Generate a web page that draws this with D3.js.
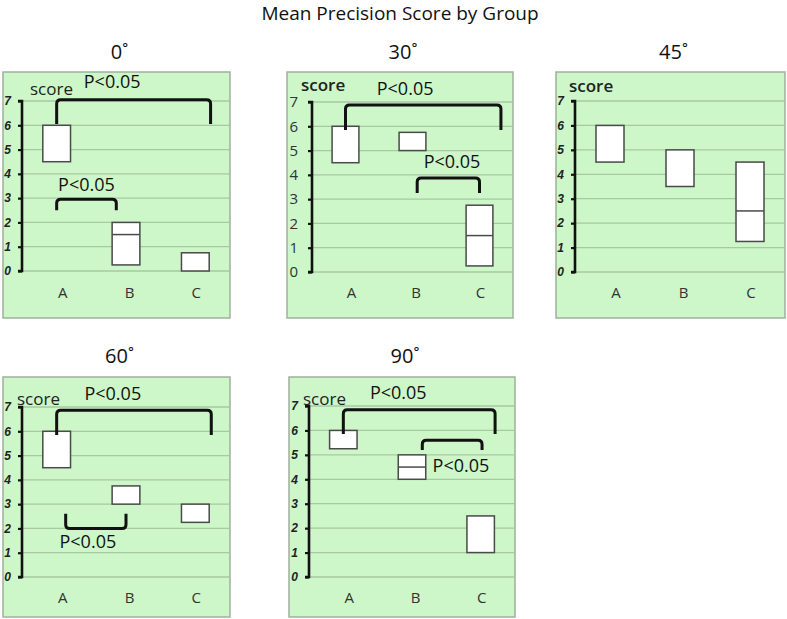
<!DOCTYPE html>
<html>
<head>
<meta charset="utf-8">
<script src="https://cdn.jsdelivr.net/npm/d3@7"></script>
<style>
  html, body { margin: 0; padding: 0; background: #fff; }
  svg { display: block; }
</style>
</head>
<body>
<svg id="chart" width="787" height="619"></svg>
<script>
// ---------------- DATA ----------------
const chartTitle = "Mean Precision Score by Group";
const categories = ["A", "B", "C"];
const yTicks = [0, 1, 2, 3, 4, 5, 6, 7];
const panelTitles = ["0˚", "30˚", "45˚", "60˚", "90˚"];
const axisLabel = "score";

// box ranges per panel, per category (A, B, C)
const boxLow    = [[4.5, 0.25, 0], [4.5, 5, 0.25], [4.5, 3.5, 1.25], [4.5, 3, 2.25], [5.25, 4, 1]];
const boxHigh   = [[6, 2, 0.75],   [6, 5.75, 2.75], [6, 5, 4.5],   [6, 3.75, 3],   [6, 5, 2.5]];
const boxMedian = [[null, 1.5, null], [null, null, 1.5], [null, null, 2.5], [null, null, null], [null, 4.5, null]];

// significance brackets (positions in category-index units and score units)
const bracketPanel = [0, 0, 1, 1, 3, 3, 4, 4];
const bracketFrom  = [0, 0, 0, 1.07, 0, 0.13, 0, 1.15];
const bracketTo    = [2.22, 0.86, 2.32, 2.0, 2.23, 1.0, 2.21, 2.02];
const bracketTop   = [7.05, 2.95, 6.88, 3.87, 6.87, 2.0, 6.85, 5.6];
const bracketEnd   = [6.05, 2.5, 5.85, 3.25, 5.85, 2.6, 5.85, 5.2];
const bracketText  = ["P<0.05", "P<0.05", "P<0.05", "P<0.05", "P<0.05", "P<0.05", "P<0.05", "P<0.05"];
const labelPosX    = [0.8, 0.43, 0.89, 1.59, 0.81, 0.45, 0.8, 1.3];
const labelPosY    = [7.53, 3.3, 7.3, 4.28, 7.28, 1.19, 7.28, 4.28];
const labelAnchor  = ["middle", "middle", "middle", "middle", "middle", "middle", "middle", "start"];

// ---------------- LAYOUT ----------------
const layout = [
  { left: 3,   right: 230, top: 72,  bottom: 318, axisX: 22,  y0: 271, y7: 101, titleY: 59,  catY: 298, scoreX: 30,  scoreY: 95,  tickStyle: "bi" },
  { left: 287, right: 513, top: 72,  bottom: 318, axisX: 312, y0: 272, y7: 102, titleY: 59,  catY: 298, scoreX: 301, scoreY: 91,  tickStyle: "reg" },
  { left: 556, right: 785, top: 72,  bottom: 318, axisX: 575, y0: 272, y7: 101, titleY: 59,  catY: 298, scoreX: 569, scoreY: 92,  tickStyle: "bi" },
  { left: 3,   right: 230, top: 377, bottom: 617, axisX: 22,  y0: 577, y7: 407, titleY: 363, catY: 603, scoreX: 17,  scoreY: 405, tickStyle: "bi" },
  { left: 289, right: 515, top: 377, bottom: 617, axisX: 309, y0: 577, y7: 406, titleY: 363, catY: 603, scoreX: 303, scoreY: 405, tickStyle: "bi" }
];

const svg = d3.select("#chart");
const FONT = "'Open Sans', 'Noto Sans', sans-serif";

svg.append("text")
  .attr("x", 400).attr("y", 20)
  .attr("text-anchor", "middle")
  .attr("font-family", FONT).attr("font-size", 19)
  .attr("fill", "#111")
  .text(chartTitle);

layout.forEach((L, pi) => {
  const g = svg.append("g");
  // panel background
  g.append("rect")
    .attr("x", L.left).attr("y", L.top)
    .attr("width", L.right - L.left).attr("height", L.bottom - L.top)
    .attr("fill", "#cdf6c9").attr("stroke", "#9fb09d").attr("stroke-width", 1.5);

  const x = d3.scaleBand().domain(categories).range([L.axisX, L.right]).padding(0);
  const step = x.step();
  const cx = i => x(categories[0]) + step / 2 + i * step;
  const y = d3.scaleLinear().domain([0, 7]).range([L.y0, L.y7]);

  // title
  svg.append("text")
    .attr("x", (L.left + L.right) / 2 + 3).attr("y", L.titleY)
    .attr("text-anchor", "middle")
    .attr("font-family", FONT).attr("font-size", 20)
    .attr("fill", "#111")
    .text(panelTitles[pi]);

  // gridlines
  g.selectAll("line.grid").data(yTicks).join("line")
    .attr("class", "grid")
    .attr("x1", L.axisX).attr("x2", L.right - 1)
    .attr("y1", d => y(d)).attr("y2", d => y(d))
    .attr("stroke", "#a6c9a2").attr("stroke-width", 1.3);

  // y axis
  const axis = d3.axisLeft(y).tickValues(yTicks).tickSize(4).tickPadding(L.tickStyle === "reg" ? 10 : 7).tickFormat(d3.format("d"));
  const ag = g.append("g").attr("transform", `translate(${L.axisX},0)`).call(axis);
  ag.select(".domain").attr("stroke", "#111").attr("stroke-width", 2.6).attr("d", `M-4,${y(7)}H0V${y(0)}H-4`);
  ag.selectAll(".tick line").attr("stroke", "#111").attr("stroke-width", 2.2);
  if (L.tickStyle === "reg") {
    ag.selectAll(".tick text").attr("font-family", FONT).attr("font-size", 15).attr("fill", "#333");
  } else {
    ag.selectAll(".tick text").attr("font-family", "'Liberation Sans', Arial, sans-serif")
      .attr("font-size", 12).attr("font-weight", "bold").attr("font-style", "italic").attr("fill", "#222");
  }

  // category labels
  g.selectAll("text.cat").data(categories).join("text")
    .attr("class", "cat")
    .attr("x", (d, i) => cx(i) + 6 - i * 2.5)
    .attr("y", L.catY)
    .attr("text-anchor", "middle")
    .attr("font-family", FONT).attr("font-size", 15)
    .attr("fill", "#333")
    .text(d => d);

  // boxes
  const bw = step * 0.4;
  const boxes = categories.map((c, i) => ({ c, lo: boxLow[pi][i], hi: boxHigh[pi][i], med: boxMedian[pi][i] }));
  g.selectAll("rect.box").data(boxes).join("rect")
    .attr("class", "box")
    .attr("x", d => x(d.c) + step / 2 - bw / 2)
    .attr("y", d => y(d.hi))
    .attr("width", bw)
    .attr("height", d => y(d.lo) - y(d.hi))
    .attr("fill", "#fff").attr("stroke", "#4a4a4a").attr("stroke-width", 1.5);
  g.selectAll("line.med").data(boxes.filter(d => d.med !== null)).join("line")
    .attr("class", "med")
    .attr("x1", d => x(d.c) + step / 2 - bw / 2)
    .attr("x2", d => x(d.c) + step / 2 + bw / 2)
    .attr("y1", d => y(d.med)).attr("y2", d => y(d.med))
    .attr("stroke", "#4a4a4a").attr("stroke-width", 1.5);

  // score label
  svg.append("text")
    .attr("x", L.scoreX).attr("y", L.scoreY)
    .attr("font-family", FONT).attr("font-size", 17)
    .attr("font-weight", L.tickStyle === "reg" || pi === 2 ? 600 : 400)
    .attr("fill", "#222")
    .text(axisLabel);

  // brackets
  bracketPanel.forEach((bp, bi) => {
    if (bp !== pi) return;
    const x1 = cx(bracketFrom[bi]), x2 = cx(bracketTo[bi]);
    const yt = y(bracketTop[bi]), ye = y(bracketEnd[bi]);
    const dir = ye > yt ? 1 : -1;
    const r = 4;
    const p = d3.path();
    p.moveTo(x1, ye);
    p.lineTo(x1, yt + dir * r);
    p.quadraticCurveTo(x1, yt, x1 + r, yt);
    p.lineTo(x2 - r, yt);
    p.quadraticCurveTo(x2, yt, x2, yt + dir * r);
    p.lineTo(x2, ye);
    svg.append("path").attr("d", p.toString())
      .attr("fill", "none").attr("stroke", "#111").attr("stroke-width", 3)
      .attr("stroke-linejoin", "round");
    svg.append("text")
      .attr("x", cx(labelPosX[bi])).attr("y", y(labelPosY[bi]))
      .attr("text-anchor", labelAnchor[bi])
      .attr("font-family", FONT).attr("font-size", 18)
      .attr("fill", "#111")
      .text(bracketText[bi]);
  });
});
</script>
</body>
</html>
